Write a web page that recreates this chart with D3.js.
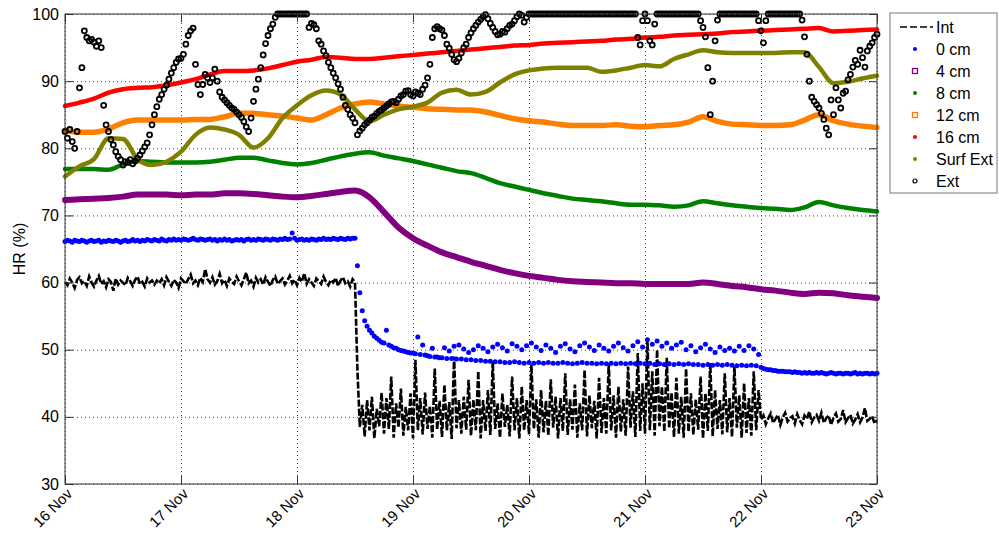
<!DOCTYPE html>
<html>
<head>
<meta charset="utf-8">
<script src="https://cdn.jsdelivr.net/npm/d3@7"></script>
<style>
  body { margin: 0; background: #fff; }
  svg text { font-family: 'Liberation Sans', Arial, sans-serif; fill: #000; }
</style>
</head>
<body>
<svg id="chart"></svg>
<script>
// time origin: 16 Nov, 00:00
const t0 = Date.UTC(2012, 10, 16)
const t1 = Date.UTC(2012, 10, 23)

const yTicks = [30, 40, 50, 60, 70, 80, 90, 100]
const legendLabels = ['Int', '0 cm', '4 cm', '8 cm', '12 cm', '16 cm', 'Surf Ext', 'Ext']

// Int (inside), one value every 30 min, one row = 6 h
const intVals = [
  60.1, 59.6, 60.6, 60.0, 59.2, 60.4, 60.8, 59.9, 60.2, 59.5, 60.9, 60.0,
  59.4, 60.3, 61.0, 59.8, 60.2, 59.3, 60.5, 60.1, 58.8, 60.6, 59.7, 60.3,
  60.0, 59.6, 60.7, 60.2, 59.5, 60.4, 60.9, 59.8, 60.1, 59.4, 60.6, 60.0,
  60.3, 59.7, 60.3, 59.9, 60.5, 59.6, 60.8, 60.1, 59.5, 60.4, 60.0, 59.2,
  60.6, 60.2, 59.8, 60.5, 61.2, 59.9, 60.3, 59.6, 60.7, 60.1, 62.0, 60.5,
  60.0, 60.8, 59.7, 60.2, 61.3, 59.9, 60.4, 59.5, 60.6, 60.1, 59.8, 60.9,
  60.2, 59.6, 60.5, 61.5, 59.9, 60.3, 59.4, 60.7, 60.0, 60.5, 59.7, 60.8,
  60.1, 59.5, 60.4, 60.9, 59.8, 60.2, 60.6, 59.7, 60.3, 61.0, 59.9, 60.4,
  59.6, 60.7, 60.1, 61.4, 59.8, 60.5, 60.0, 59.5, 60.6, 60.2, 59.8, 60.9,
  60.1, 59.6, 60.4, 60.0, 60.7, 59.5, 60.3, 60.8, 59.9, 60.2, 59.4, 60.5,
  60.0, 47.0, 38.5, 41.8, 37.1, 42.5, 38.0, 43.0, 36.8, 41.2, 38.6, 43.6,
  37.5, 42.8, 38.2, 46.0, 36.9, 42.0, 38.4, 44.2, 37.2, 41.5, 38.0, 43.5,
  36.8, 48.5, 38.0, 42.8, 37.4, 43.6, 38.2, 41.6, 36.9, 47.2, 38.1, 42.4,
  37.0, 44.8, 38.0, 42.2, 36.7, 49.0, 38.3, 42.5, 37.5, 43.0, 38.1, 45.5,
  37.2, 42.6, 38.0, 46.8, 36.8, 42.5, 37.9, 44.0, 37.3, 48.2, 38.2, 42.0,
  36.9, 43.5, 38.5, 41.8, 37.1, 46.0, 38.0, 42.8, 36.8, 44.5, 38.0, 42.5,
  37.4, 47.8, 38.2, 42.6, 36.9, 44.0, 37.7, 42.4, 37.2, 45.6, 38.4, 43.0,
  36.8, 42.8, 37.9, 46.5, 37.3, 42.6, 38.1, 44.8, 36.9, 42.0, 38.0, 47.0,
  37.1, 43.2, 38.3, 42.4, 36.8, 45.8, 37.6, 42.8, 37.5, 48.0, 38.0, 43.2,
  36.9, 44.5, 37.8, 42.6, 37.2, 47.5, 38.4, 43.8, 37.0, 49.5, 37.9, 45.0,
  37.5, 51.5, 38.0, 46.8, 37.2, 50.0, 38.6, 44.5, 37.8, 48.8, 38.3, 43.6,
  37.0, 45.8, 37.5, 43.0, 36.9, 47.2, 37.8, 43.5, 37.3, 42.6, 38.1, 46.0,
  36.8, 43.5, 37.9, 48.0, 37.1, 44.0, 38.2, 42.5, 37.4, 46.5, 37.7, 42.8,
  37.0, 47.5, 38.4, 43.2, 36.9, 45.0, 37.6, 42.8, 37.2, 46.8, 38.0, 44.0,
  39.6, 40.2, 38.9, 39.8, 40.5, 39.1, 39.7, 40.3, 38.8, 39.9, 40.6, 39.3,
  39.8, 40.1, 39.0, 40.4, 39.5, 38.9, 40.2, 39.7, 40.8, 39.2, 39.9, 40.3,
  39.4, 40.6, 39.1, 39.8, 40.2, 38.8, 39.9, 40.5, 39.3, 39.7, 41.0, 39.2,
  39.8, 40.3, 39.0, 39.6, 40.4, 39.2, 39.9, 41.3, 39.4, 39.7, 40.1, 39.0,
  39.5
]

// 0 cm, one value every 30 min
const cm0Vals = [
  66.1, 66.3, 66.2, 66.0, 66.3, 66.2, 66.1, 66.3, 66.2, 66.0, 66.2, 66.3,
  66.1, 66.2, 66.3, 66.0, 66.2, 66.1, 66.3, 66.2, 66.1, 66.3, 66.2, 66.0,
  66.2, 66.3, 66.1, 66.2, 66.4, 66.2, 66.3, 66.1, 66.3, 66.2, 66.4, 66.3,
  66.2, 66.4, 66.3, 66.2, 66.5, 66.3, 66.2, 66.4, 66.3, 66.5, 66.3, 66.4,
  66.3, 66.5, 66.4, 66.3, 66.4, 66.6, 66.4, 66.3, 66.5, 66.4, 66.3, 66.4,
  66.5, 66.3, 66.4, 66.2, 66.4, 66.3, 66.5, 66.3, 66.4, 66.2, 66.3, 66.4,
  66.3, 66.4, 66.2, 66.4, 66.5, 66.3, 66.4, 66.3, 66.5, 66.4, 66.3, 66.5,
  66.4, 66.3, 66.5, 66.4, 66.3, 66.5, 66.4, 66.6, 66.4, 66.5, 67.4, 66.6,
  66.3, 66.4, 66.5, 66.3, 66.4, 66.3, 66.5, 66.4, 66.3, 66.5, 66.4, 66.6,
  66.4, 66.5, 66.4, 66.6, 66.5, 66.4, 66.6, 66.5, 66.4, 66.6, 66.5, 66.6,
  66.6, 62.5, 58.5, 55.8, 54.3, 53.5, 52.9, 52.5, 52.0, 51.7, 51.4, 51.1,
  51.0, 52.9, 50.7, 50.5, 50.3, 50.2, 50.0, 49.9, 49.8, 49.7, 49.6, 49.5,
  49.5, 49.4, 51.9, 49.3, 50.7, 49.2, 49.1, 49.0, 50.2, 48.9, 48.9, 48.8,
  48.8, 50.3, 48.7, 49.8, 48.7, 50.5, 48.6, 50.7, 48.6, 50.1, 48.5, 49.6,
  48.5, 50.0, 48.4, 50.6, 48.4, 50.2, 48.3, 49.7, 48.3, 50.4, 48.2, 50.8,
  48.2, 50.3, 48.1, 49.8, 48.1, 50.9, 48.2, 50.5, 48.1, 50.0, 48.0, 50.6,
  48.1, 51.0, 48.0, 50.4, 48.1, 49.9, 48.0, 50.7, 48.1, 50.2, 48.0, 49.6,
  48.0, 50.5, 48.1, 50.9, 48.0, 50.1, 47.9, 49.7, 48.0, 50.6, 48.1, 51.0,
  48.0, 50.4, 48.0, 49.9, 47.9, 50.7, 48.0, 50.2, 47.9, 49.8, 48.0, 50.5,
  47.9, 51.0, 48.0, 50.3, 47.9, 49.8, 48.0, 50.6, 47.9, 51.2, 48.0, 50.4,
  47.9, 51.5, 48.0, 50.8, 47.8, 51.3, 47.9, 50.5, 47.8, 51.0, 47.9, 50.2,
  47.8, 50.7, 47.9, 51.1, 47.8, 50.0, 47.9, 50.6, 47.8, 49.7, 47.8, 50.3,
  47.7, 50.8, 47.8, 50.1, 47.7, 49.6, 47.8, 50.4, 47.7, 49.9, 47.8, 50.2,
  47.7, 49.8, 47.6, 50.5, 47.7, 49.9, 47.6, 50.6, 47.7, 50.1, 47.6, 49.3,
  47.4, 47.2, 47.1, 47.0, 47.0, 46.9, 46.9, 46.8, 46.8, 46.8, 46.7, 46.7,
  46.7, 46.6, 46.7, 46.6, 46.6, 46.5, 46.6, 46.5, 46.6, 46.5, 46.5, 46.6,
  46.5, 46.6, 46.5, 46.4, 46.5, 46.6, 46.5, 46.4, 46.5, 46.5, 46.4, 46.5,
  46.5, 46.4, 46.5, 46.6, 46.4, 46.5, 46.4, 46.5, 46.5, 46.4, 46.5, 46.4,
  46.5
]

// smooth sensors, one value every 3 h, one row = 1 day
const cm4Vals = [
  72.3, 72.4, 72.5, 72.6, 72.8, 73.1, 73.1, 73.1,
  73.0, 73.1, 73.1, 73.3, 73.3, 73.2, 73.0, 72.8,
  72.7, 72.9, 73.2, 73.5, 73.7, 72.7, 70.5, 68.2,
  66.6, 65.5, 64.5, 63.8, 63.1, 62.5, 61.9, 61.4,
  61.0, 60.7, 60.4, 60.2, 60.1, 60.0, 59.9, 59.9,
  59.8, 59.8, 59.8, 59.8, 60.0, 59.8, 59.5, 59.3,
  59.0, 58.8, 58.5, 58.3, 58.5, 58.4, 58.1, 57.9,
  57.7
]
const cm8Vals = [
  76.9, 76.9, 76.9, 76.8, 77.6, 78.1, 78.0, 77.9,
  77.9, 77.9, 78.0, 78.3, 78.6, 78.6, 78.2, 77.8,
  77.6, 77.8, 78.3, 78.8, 79.2, 79.4, 78.9, 78.5,
  78.1, 77.6, 77.1, 76.6, 76.3, 75.6, 74.8, 74.3,
  73.8, 73.3, 72.9, 72.5, 72.3, 72.1, 71.8, 71.6,
  71.6, 71.5, 71.3, 71.5, 72.1, 71.8, 71.5, 71.3,
  71.1, 71.0, 70.8, 71.2, 72.0, 71.5, 71.1, 70.8,
  70.6
]
const cm12Vals = [
  82.6, 82.4, 82.4, 82.9, 83.8, 84.2, 84.2, 84.2,
  84.2, 84.3, 84.3, 84.7, 85.2, 85.2, 85.0, 84.8,
  84.5, 84.2, 85.0, 86.0, 86.6, 86.9, 86.6, 86.3,
  86.1, 85.9, 85.8, 85.7, 85.7, 85.4, 84.9, 84.4,
  84.1, 83.9, 83.6, 83.4, 83.4, 83.4, 83.5, 83.3,
  83.2, 83.4, 83.5, 83.9, 84.7, 84.0, 83.6, 83.5,
  83.4, 83.4, 83.5, 84.2, 85.0, 84.1, 83.6, 83.3,
  83.1
]
const cm16Vals = [
  86.3, 86.8, 87.4, 88.3, 88.8, 89.0, 89.1, 89.4,
  89.8, 90.3, 91.0, 91.5, 91.5, 91.6, 91.9, 92.4,
  92.9, 93.2, 93.6, 93.5, 93.3, 93.3, 93.5, 93.7,
  93.9, 94.1, 94.3, 94.5, 94.7, 94.9, 95.1, 95.3,
  95.4, 95.6, 95.7, 95.8, 95.9, 96.0, 96.2, 96.3,
  96.5, 96.6, 96.8, 96.9, 97.0, 97.1, 97.3, 97.4,
  97.5, 97.6, 97.7, 97.8, 97.9, 97.4, 97.5, 97.6,
  97.7
]
const surfExtVals = [
  75.8, 77.3, 78.4, 81.5, 81.4, 78.4, 77.5, 78.0,
  79.5, 82.0, 83.1, 82.8, 82.0, 80.1, 81.5, 84.5,
  86.4, 87.9, 88.6, 88.0, 85.8, 84.0, 85.0, 85.8,
  86.2, 86.8, 88.3, 88.7, 88.0, 88.4, 89.8, 91.0,
  91.6, 91.9, 92.0, 92.0, 92.0, 91.4, 91.6, 92.0,
  92.4, 92.2, 93.3, 94.0, 94.6, 94.3, 94.2, 94.2,
  94.2, 94.2, 94.3, 94.3, 92.1, 89.7, 89.9, 90.4,
  90.8
]

// Ext (outside), one value every 30 min, one row = 6 h
const extVals = [
  82.5, 81.5, 82.8, 81.0, 80.0, 82.5, 89.0, 92.0, 97.5, 96.5, 96.0, 96.2,
  95.8, 95.2, 96.0, 95.0, 86.4, 83.5, 82.5, 81.3, 80.5, 79.5, 78.8, 78.3,
  77.5, 78.0, 77.9, 78.3, 77.7, 78.1, 78.5, 79.0, 79.6, 80.2, 80.8, 82.0,
  83.5, 85.0, 86.2, 87.3, 88.0, 88.8, 89.4, 90.3, 91.2, 92.0, 92.8, 93.3,
  93.4, 94.0, 95.5, 96.8, 97.5, 97.9, 92.5, 89.5, 88.0, 89.5, 91.0, 90.5,
  89.8, 90.5, 91.8, 90.0, 88.4, 87.6, 87.2, 86.8, 86.4, 86.0, 85.8, 85.4,
  85.0, 84.6, 84.0, 83.2, 82.5, 84.5, 87.0, 88.8, 90.3, 92.0, 93.9, 95.6,
  96.8, 97.8, 98.5, 99.5, 100, 100, 100, 100, 100, 100, 100, 100,
  100, 100, 100, 100, 100, 98.0, 98.6, 98.4, 97.8, 96.0, 95.5, 94.5,
  93.8, 92.8, 92.0, 91.2, 90.5, 89.6, 88.8, 87.6, 86.4, 85.8, 85.0, 84.5,
  83.8, 82.0, 82.6, 83.0, 83.5, 83.8, 84.2, 84.6, 84.8, 85.2, 85.5, 85.7,
  86.0, 86.3, 86.6, 86.9, 87.0, 86.8, 87.3, 87.8, 88.0, 88.5, 88.6, 88.0,
  87.8, 88.4, 88.2, 88.0, 88.8, 89.4, 90.5, 92.5, 96.5, 97.8, 98.1, 97.8,
  97.6, 96.8, 95.5, 94.9, 94.0, 93.2, 92.9, 93.4, 94.2, 95.0, 95.5, 96.5,
  97.2, 97.8, 98.3, 98.8, 99.2, 99.6, 99.9, 99.3, 98.6, 98.0, 97.4, 96.9,
  97.0, 97.4, 97.3, 97.8, 98.3, 98.5, 99.0, 99.6, 100, 99.8, 98.8, 99.5,
  100, 100, 100, 100, 100, 100, 100, 100, 100, 100, 100, 100,
  100, 100, 100, 100, 100, 100, 100, 100, 100, 100, 100, 100,
  100, 100, 100, 100, 100, 100, 100, 100, 100, 100, 100, 100,
  100, 100, 100, 100, 100, 100, 100, 100, 100, 96.5, 95.4, 99.0,
  100, 99.0, 96.0, 95.4, 98.5, 100, 100, 100, 100, 100, 100, 100,
  100, 100, 100, 100, 100, 100, 100, 100, 100, 100, 100, 99.0,
  98.0, 96.6, 92.0, 85.0, 90.0, 96.0, 99.1, 100, 100, 100, 100, 100,
  100, 100, 100, 100, 100, 100, 100, 100, 100, 100, 100, 99.0,
  97.5, 95.7, 99.0, 100, 100, 100, 100, 100, 100, 100, 100, 100,
  100, 100, 100, 100, 100, 99.1, 96.6, 94.0, 90.0, 87.6, 87.0, 86.5,
  86.0, 85.2, 84.3, 83.0, 82.0, 87.2, 85.0, 89.0, 87.2, 86.0, 88.2, 88.5,
  90.2, 91.0, 92.1, 93.1, 92.5, 94.6, 93.5, 92.1, 94.5, 95.2, 95.7, 96.5,
  97.0
]

const width = 999
const height = 535
const plot = { left: 65, right: 877, top: 14, bottom: 484 }

const svg = d3.select('#chart').attr('width', width).attr('height', height)

const x = d3.scaleUtc().domain([t0, t1]).range([plot.left, plot.right])
const y = d3.scaleLinear().domain([30, 100]).range([plot.bottom, plot.top])

// turn a value list into points, step in hours
function toPoints(vals, stepH) {
  return vals.map((v, i) => ({ t: new Date(t0 + i * stepH * 3600e3), v: v }))
}

// dotted grid
const gridX = svg.append('g')
  .attr('transform', `translate(0,${plot.bottom})`)
  .call(d3.axisBottom(x).ticks(d3.utcDay.every(1)).tickSize(-(plot.bottom - plot.top)).tickFormat(''))
const gridY = svg.append('g')
  .attr('transform', `translate(${plot.left},0)`)
  .call(d3.axisLeft(y).tickValues(yTicks).tickSize(-(plot.right - plot.left)).tickFormat(''))
;[gridX, gridY].forEach(g => {
  g.select('.domain').remove()
  g.selectAll('line').attr('stroke', '#444').attr('stroke-dasharray', '1,3')
})

const line = d3.line().x(d => x(d.t)).y(d => y(d.v))
const smooth = d3.line().x(d => x(d.t)).y(d => y(d.v)).curve(d3.curveMonotoneX)

// Int: dashed black
svg.append('path')
  .datum(toPoints(intVals, 0.5))
  .attr('d', line)
  .attr('fill', 'none')
  .attr('stroke', '#000')
  .attr('stroke-width', 2.6)
  .attr('stroke-dasharray', '7,2')

// 0 cm: blue dots
svg.append('g')
  .selectAll('circle')
  .data(toPoints(cm0Vals, 0.5))
  .join('circle')
  .attr('cx', d => x(d.t))
  .attr('cy', d => y(d.v))
  .attr('r', 2.5)
  .attr('fill', '#0000ff')

// thick bands for the slow sensors
const bands = [
  { vals: cm4Vals, color: '#800080', w: 6 },
  { vals: cm8Vals, color: '#008000', w: 4.5 },
  { vals: cm12Vals, color: '#ff8000', w: 5.5 },
  { vals: cm16Vals, color: '#ff0000', w: 4.5 },
  { vals: surfExtVals, color: '#808000', w: 4.5 },
]
bands.forEach(b => {
  svg.append('path')
    .datum(toPoints(b.vals, 3))
    .attr('d', smooth)
    .attr('fill', 'none')
    .attr('stroke', b.color)
    .attr('stroke-width', b.w)
    .attr('stroke-linecap', 'round')
    .attr('stroke-linejoin', 'round')
})

// Ext: open black circles
svg.append('g')
  .selectAll('circle')
  .data(toPoints(extVals, 0.5))
  .join('circle')
  .attr('cx', d => x(d.t))
  .attr('cy', d => y(d.v))
  .attr('r', 2.5)
  .attr('fill', 'none')
  .attr('stroke', '#000')
  .attr('stroke-width', 1.8)

// axes box + inward ticks
svg.append('rect')
  .attr('x', plot.left).attr('y', plot.top)
  .attr('width', plot.right - plot.left).attr('height', plot.bottom - plot.top)
  .attr('fill', 'none').attr('stroke', '#333').attr('stroke-width', 1)

const yAxis = svg.append('g')
  .attr('transform', `translate(${plot.left},0)`)
  .call(d3.axisLeft(y).tickValues(yTicks).tickSize(-8).tickPadding(6))
svg.append('g')
  .attr('transform', `translate(${plot.right},0)`)
  .call(d3.axisRight(y).tickValues(yTicks).tickSize(-8).tickFormat(''))
const xAxis = svg.append('g')
  .attr('transform', `translate(0,${plot.bottom})`)
  .call(d3.axisBottom(x).ticks(d3.utcDay.every(1)).tickSize(-8).tickFormat(d3.utcFormat('%-d %b')))
svg.append('g')
  .attr('transform', `translate(0,${plot.top})`)
  .call(d3.axisTop(x).ticks(d3.utcDay.every(1)).tickSize(-8).tickFormat(''))

svg.selectAll('.domain').remove()
svg.selectAll('.tick line').filter(function () {
  return !this.getAttribute('stroke-dasharray')
}).attr('stroke', '#333')

yAxis.selectAll('text').attr('font-size', 16)
xAxis.selectAll('text')
  .attr('font-size', 15)
  .attr('text-anchor', 'end')
  .attr('x', 0).attr('y', 0).attr('dy', '0.35em')
  .attr('transform', 'translate(4,7) rotate(-45)')

svg.append('text')
  .attr('transform', 'translate(25,249) rotate(-90)')
  .attr('text-anchor', 'middle')
  .attr('font-size', 16)
  .text('HR (%)')

// legend
const legend = svg.append('g').attr('transform', 'translate(890,13)')
legend.append('rect')
  .attr('width', 107).attr('height', 180)
  .attr('fill', '#fff').attr('stroke', '#777')

const legendColors = ['#000', '#0000ff', '#800080', '#008000', '#ff8000', '#ff0000', '#808000', '#000']
const legendMarks = ['dash', 'dot', 'square', 'dot', 'square', 'dot', 'dot', 'ring']

const item = legend.selectAll('g.item')
  .data(legendLabels)
  .join('g')
  .attr('class', 'item')
  .attr('transform', (d, i) => `translate(0,${14 + i * 22})`)

item.each(function (d, i) {
  const g = d3.select(this)
  const c = legendColors[i]
  const m = legendMarks[i]
  if (m === 'dash') {
    g.append('line').attr('x1', 10).attr('x2', 43).attr('y1', 0).attr('y2', 0)
      .attr('stroke', c).attr('stroke-width', 1.5).attr('stroke-dasharray', '7,3')
  } else if (m === 'dot') {
    g.append('circle').attr('cx', 25).attr('cy', 0).attr('r', 2).attr('fill', c)
  } else if (m === 'square') {
    g.append('rect').attr('x', 22.5).attr('y', -2.5).attr('width', 5).attr('height', 5)
      .attr('fill', 'none').attr('stroke', c).attr('stroke-width', 1.3)
  } else {
    g.append('circle').attr('cx', 25).attr('cy', 0).attr('r', 2)
      .attr('fill', 'none').attr('stroke', c).attr('stroke-width', 1.2)
  }
})

item.append('text')
  .attr('x', 46)
  .attr('y', 0)
  .attr('dy', '0.35em')
  .attr('font-size', 16)
  .text(d => d)
</script>
</body>
</html>
